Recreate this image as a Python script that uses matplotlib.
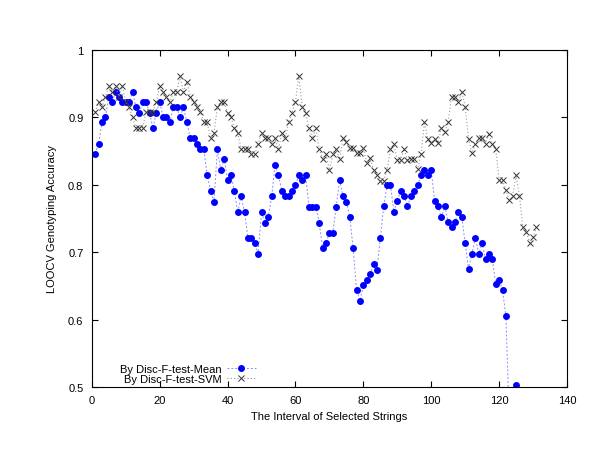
import matplotlib
matplotlib.use('Agg')
import matplotlib.pyplot as plt

plt.rcParams['font.family'] = ['Liberation Sans', 'DejaVu Sans']

# accuracy per interval
mean_x = list(range(1, 126))
mean_acc = [
    0.846, 0.861, 0.893, 0.900, 0.931, 0.923, 0.938, 0.931, 0.923, 0.923,
    0.923, 0.938, 0.915, 0.907, 0.923, 0.923, 0.907, 0.884, 0.907, 0.923,
    0.900, 0.900, 0.893, 0.915, 0.915, 0.900, 0.915, 0.893, 0.869, 0.869,
    0.861, 0.853, 0.853, 0.814, 0.791, 0.775, 0.853, 0.822, 0.838, 0.807,
    0.814, 0.791, 0.759, 0.783, 0.759, 0.721, 0.721, 0.713, 0.698, 0.759,
    0.744, 0.752, 0.783, 0.830, 0.814, 0.791, 0.783, 0.783, 0.791, 0.799,
    0.814, 0.807, 0.814, 0.767, 0.767, 0.767, 0.744, 0.706, 0.713, 0.729,
    0.729, 0.767, 0.807, 0.783, 0.775, 0.752, 0.706, 0.644, 0.628, 0.651,
    0.659, 0.667, 0.682, 0.674, 0.721, 0.768, 0.799, 0.799, 0.760, 0.776,
    0.791, 0.783, 0.768, 0.783, 0.791, 0.799, 0.814, 0.822, 0.814, 0.822,
    0.776, 0.768, 0.752, 0.768, 0.745, 0.737, 0.745, 0.760, 0.752, 0.713,
    0.675, 0.698, 0.721, 0.698, 0.713, 0.690, 0.698, 0.690, 0.652, 0.659,
    0.644, 0.605, 0.450, 0.470, 0.503,
]

svm_x = list(range(1, 132))
svm_acc = [
    0.908, 0.923, 0.915, 0.931, 0.946, 0.938, 0.946, 0.931, 0.946, 0.923,
    0.915, 0.900, 0.885, 0.885, 0.885, 0.908, 0.908, 0.908, 0.923, 0.946,
    0.938, 0.931, 0.923, 0.938, 0.938, 0.961, 0.938, 0.953, 0.931, 0.923,
    0.915, 0.908, 0.893, 0.893, 0.870, 0.877, 0.915, 0.923, 0.923, 0.907,
    0.900, 0.884, 0.877, 0.853, 0.853, 0.853, 0.845, 0.845, 0.861, 0.877,
    0.869, 0.869, 0.861, 0.869, 0.853, 0.877, 0.869, 0.893, 0.907, 0.923,
    0.962, 0.915, 0.907, 0.884, 0.869, 0.884, 0.853, 0.838, 0.845, 0.822,
    0.845, 0.853, 0.838, 0.869, 0.863, 0.855, 0.854, 0.847, 0.847, 0.854,
    0.832, 0.840, 0.822, 0.815, 0.806, 0.806, 0.822, 0.853, 0.860, 0.837,
    0.837, 0.853, 0.837, 0.838, 0.838, 0.823, 0.845, 0.893, 0.868, 0.862,
    0.868, 0.862, 0.884, 0.878, 0.893, 0.931, 0.931, 0.923, 0.938, 0.916,
    0.868, 0.847, 0.861, 0.869, 0.869, 0.861, 0.876, 0.861, 0.853, 0.807,
    0.807, 0.792, 0.777, 0.784, 0.814, 0.784, 0.737, 0.730, 0.714, 0.722,
    0.737,
]

x_ticks = [0, 20, 40, 60, 80, 100, 120, 140]
y_ticks = [0.5, 0.6, 0.7, 0.8, 0.9, 1.0]
y_tick_labels = ['0.5', '0.6', '0.7', '0.8', '0.9', '1']

fig = plt.figure(figsize=(6, 4.64), dpi=100)
ax = fig.add_axes([0.153, 0.164, 0.792, 0.726])

ax.plot(mean_x, mean_acc, color='#8c8cff', linestyle=(0, (2, 2)), linewidth=0.7,
        marker='o', markersize=5, markeredgewidth=0,
        markerfacecolor='#0000ff', markeredgecolor='#0000ff',
        label='By Disc-F-test-Mean')
ax.plot(svm_x, svm_acc, color='#9a9a9a', linestyle=(0, (1, 2)), linewidth=0.8,
        marker='x', markersize=4.5, markeredgewidth=0.7, markeredgecolor='#333333',
        label='By Disc-F-test-SVM')

ax.set_xlim(0, 140)
ax.set_ylim(0.5, 1.0)
ax.set_xticks(x_ticks)
ax.set_yticks(y_ticks)
ax.set_yticklabels(y_tick_labels)
ax.tick_params(direction='in', top=True, right=True, length=4, width=0.8,
               labelsize=8, pad=6)
for s in ax.spines.values():
    s.set_linewidth(0.8)

ax.set_xlabel('The Interval of Selected Strings', fontsize=8, labelpad=4)
ax.set_ylabel('LOOCV Genotyping Accuracy', fontsize=8, labelpad=8)

leg = ax.legend(loc='lower right', bbox_to_anchor=(0.345, 0.008), frameon=False,
                fontsize=8, markerfirst=False, handlelength=2.6,
                handletextpad=0.5, labelspacing=0.05, borderpad=0,
                borderaxespad=0)
for t in leg.get_texts():
    t.set_ha('right')
leg._legend_box.align = 'right'

fig.savefig('out.png', dpi=100)
